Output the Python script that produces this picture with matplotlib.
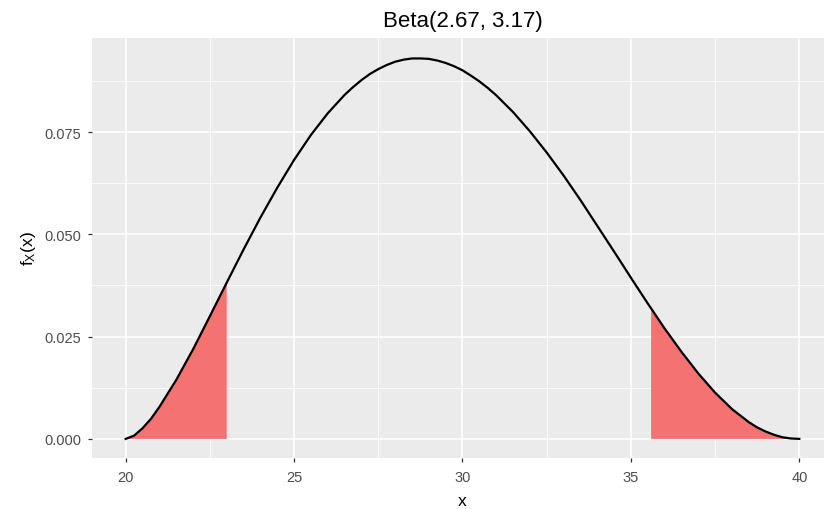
import numpy as np
import matplotlib
matplotlib.use("Agg")
import matplotlib.pyplot as plt

plt.rcParams["font.family"] = ["Liberation Sans", "DejaVu Sans"]
plt.rcParams["mathtext.fontset"] = "custom"
plt.rcParams["mathtext.rm"] = "Liberation Sans"
plt.rcParams["mathtext.it"] = "Liberation Sans"

# density curve (x on 20..40)
x_vals = [20.0, 20.25, 20.5, 20.75, 21.0, 21.5, 22.0, 22.5, 23.0, 23.5,
          24.0, 24.5, 25.0, 25.5, 26.0, 26.5, 26.75, 27.0, 27.25, 27.5,
          27.75, 28.0, 28.25, 28.5, 28.75, 29.0, 29.25, 29.5, 29.75, 30.0,
          30.25, 30.5, 30.75, 31.0, 31.5, 32.0, 32.5, 33.0, 33.5, 34.0,
          34.5, 35.0, 35.5, 35.6, 36.0, 36.5, 37.0, 37.5, 38.0, 38.5,
          38.75, 39.0, 39.25, 39.5, 39.75, 40.0]
y_vals = [0.0000, 0.0008, 0.0026, 0.0049, 0.0078, 0.0144, 0.0219, 0.0300,
          0.0382, 0.0463, 0.0541, 0.0614, 0.0682, 0.0743, 0.0796, 0.0841,
          0.0860, 0.0877, 0.0892, 0.0904, 0.0914, 0.0922, 0.0927, 0.0930,
          0.0930, 0.0929, 0.0925, 0.0919, 0.0911, 0.0901, 0.0888, 0.0874,
          0.0858, 0.0840, 0.0799, 0.0752, 0.0700, 0.0644, 0.0584, 0.0521,
          0.0458, 0.0394, 0.0331, 0.0319, 0.0270, 0.0213, 0.0160, 0.0113,
          0.0073, 0.0041, 0.0028, 0.0018, 0.0010, 0.0004, 0.0001, 0.0000]
lower_cut = 23.0
upper_cut = 35.6
title = "Beta(2.67, 3.17)"

x = np.array(x_vals)
y = np.array(y_vals)

fig = plt.figure(figsize=(8.24, 5.10), dpi=100)
ax = fig.add_axes([92 / 824, 1 - 459 / 510, (833 - 92) / 824, (459 - 39) / 510])
ax.set_facecolor("#EBEBEB")

# shaded tails
ax.fill_between(x, 0, y, where=x <= lower_cut, facecolor="#F57272",
                linewidth=0)
ax.fill_between(x, 0, y, where=x >= upper_cut, facecolor="#F57272",
                linewidth=0)
ax.plot(x, y, color="black", linewidth=1.6, solid_joinstyle="round")

ax.set_xlim(19, 41)
ax.set_ylim(-0.00467, 0.098)
ax.set_xticks([20, 25, 30, 35, 40])
ax.set_yticks([0.0, 0.025, 0.05, 0.075])
ax.set_yticklabels(["0.000", "0.025", "0.050", "0.075"])
ax.set_xticks([22.5, 27.5, 32.5, 37.5], minor=True)
ax.set_yticks([0.0125, 0.0375, 0.0625, 0.0875], minor=True)
ax.grid(which="major", color="white", linewidth=1.1)
ax.grid(which="minor", color="white", linewidth=0.55)
ax.set_axisbelow(True)
for s in ax.spines.values():
    s.set_visible(False)
ax.tick_params(which="major", length=3, width=0.9, color="#333333",
               labelcolor="#4D4D4D", labelsize=10.5, pad=5)
ax.tick_params(axis="x", which="major", pad=6)
ax.tick_params(which="minor", length=0)

ax.set_xlabel("x", fontsize=12.5, color="black", labelpad=6)
ax.set_ylabel(r"$\mathregular{f_X(x)}$", fontsize=12.5, color="black",
              labelpad=4)
ax.set_title(title, fontsize=16, pad=9)

fig.savefig("out.png", dpi=100)
